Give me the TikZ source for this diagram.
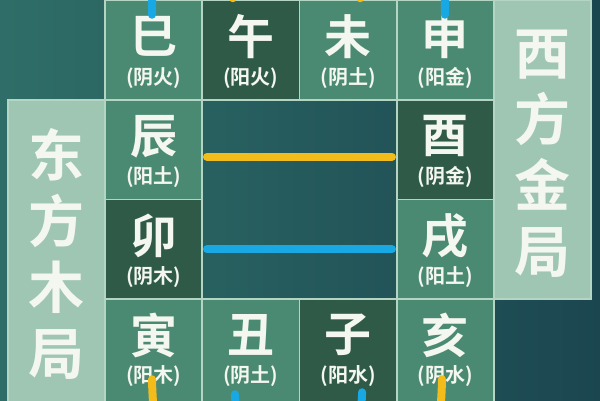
\documentclass[tikz,border=0pt]{standalone}
\usepackage{fontspec}
\newfontfamily\cjk{Noto Sans CJK SC}[BoldFont={Noto Sans CJK SC Bold}]
\definecolor{bgleft}{HTML}{2F6E68}
\definecolor{bgright}{HTML}{1B4650}
\definecolor{midgreen}{HTML}{4B8A72}
\definecolor{deepgreen}{HTML}{2F5A48}
\definecolor{sage}{HTML}{9EC6B2}
\definecolor{gridline}{HTML}{B4D4C4}
\definecolor{chalk}{HTML}{F4F6F0}
\definecolor{gold}{HTML}{F2BD1A}
\definecolor{sky}{HTML}{18A8E4}

\begin{document}
\begin{tikzpicture}[x=1pt, y=1pt,
    cell/.style={draw=gridline, line width=1.5pt, minimum width=97.25pt, minimum height=99.5pt, inner sep=0pt},
    mid/.style={cell, fill=midgreen},
    deep/.style={cell, fill=deepgreen},
    side/.style={draw=gridline, line width=1.5pt, fill=sage, minimum width=97pt, inner sep=0pt},
    zhi/.style={font=\cjk\bfseries\fontsize{47}{47}\selectfont, text=chalk},
    wx/.style={font=\cjk\bfseries\fontsize{20}{20}\selectfont, text=chalk},
    ju/.style={font=\cjk\bfseries\fontsize{56}{66}\selectfont, text=chalk, align=center},
    yline/.style={draw=gold, line width=8pt, line cap=round},
    bline/.style={draw=sky, line width=8pt, line cap=round}
]

\useasboundingbox (0,0) rectangle (600,400);
\clip (0,0) rectangle (600,400);
\fill[left color=bgleft, right color=bgright] (0,0) rectangle (600,400);

\node[side, minimum height=310pt] (east) at (56.5,145) {};
\node[side, minimum height=298.5pt] (west) at (542.5,250.25) {};
\node[ju] at (56.5,146) {东\\方\\木\\局};
\node[ju] at (542.5,246) {西\\方\\金\\局};

\node[mid] (si) at (153.6,349.75) {};
\node[deep] (wu) at (250.9,349.75) {};
\node[mid] (wei) at (348.1,349.75) {};
\node[mid] (shen) at (445.4,349.75) {};
\node[mid] (chen) at (153.6,250.25) {};
\node[deep] (you) at (445.4,250.25) {};
\node[deep] (mao) at (153.6,150.75) {};
\node[mid] (xu) at (445.4,150.75) {};
\node[mid, minimum height=110pt] (yin) at (153.6,46) {};
\node[mid, minimum height=110pt] (chou) at (250.9,46) {};
\node[deep, minimum height=110pt] (zi) at (348.1,46) {};
\node[mid, minimum height=110pt] (hai) at (445.4,46) {};

\node[zhi] at ([yshift=-37pt]si.north) {巳};
\node[wx] at ([yshift=-78pt]si.north) {(阴火)};
\node[zhi] at ([yshift=-37pt]wu.north) {午};
\node[wx] at ([yshift=-78pt]wu.north) {(阳火)};
\node[zhi] at ([yshift=-37pt]wei.north) {未};
\node[wx] at ([yshift=-78pt]wei.north) {(阴土)};
\node[zhi] at ([yshift=-37pt]shen.north) {申};
\node[wx] at ([yshift=-78pt]shen.north) {(阳金)};
\node[zhi] at ([yshift=-37pt]chen.north) {辰};
\node[wx] at ([yshift=-78pt]chen.north) {(阳土)};
\node[zhi] at ([yshift=-37pt]you.north) {酉};
\node[wx] at ([yshift=-78pt]you.north) {(阴金)};
\node[zhi] at ([yshift=-37pt]mao.north) {卯};
\node[wx] at ([yshift=-78pt]mao.north) {(阴木)};
\node[zhi] at ([yshift=-37pt]xu.north) {戌};
\node[wx] at ([yshift=-78pt]xu.north) {(阳土)};
\node[zhi] at ([yshift=-37pt]yin.north) {寅};
\node[wx] at ([yshift=-78pt]yin.north) {(阳木)};
\node[zhi] at ([yshift=-37pt]chou.north) {丑};
\node[wx] at ([yshift=-78pt]chou.north) {(阴土)};
\node[zhi] at ([yshift=-37pt]zi.north) {子};
\node[wx] at ([yshift=-78pt]zi.north) {(阳水)};
\node[zhi] at ([yshift=-37pt]hai.north) {亥};
\node[wx] at ([yshift=-78pt]hai.north) {(阴水)};

\draw[yline, shorten <=4pt, shorten >=4pt] ([yshift=-7pt]chen.east) -- ([yshift=-7pt]you.west);
\draw[bline, shorten <=4pt, shorten >=4pt] (mao.east) -- (xu.west);
\draw[bline] ([xshift=-1.6pt,yshift=-15pt]si.north) .. controls +(0,300) and +(0,300) .. ([xshift=-0.4pt,yshift=-15pt]shen.north);
\draw[yline] ([xshift=-18pt,yshift=1.5pt]wu.north) .. controls +(0,200) and +(0,200) .. ([xshift=12pt,yshift=1.5pt]wei.north);
\draw[yline] ([xshift=-1.6pt,yshift=-81pt]yin.north) .. controls +(6,-300) and +(-6,-300) .. ([xshift=-3.4pt,yshift=-81pt]hai.north);
\draw[bline] ([xshift=-16pt,yshift=-96pt]chou.north) .. controls +(12,-200) and +(-8,-200) .. ([xshift=14pt,yshift=-94pt]zi.north);

\end{tikzpicture}
\end{document}
